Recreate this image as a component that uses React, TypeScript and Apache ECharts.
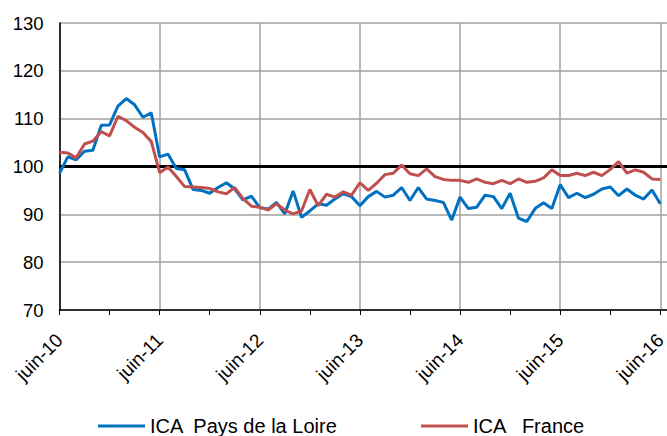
import React, { useEffect, useRef } from "react";
import * as echarts from "echarts";

const yearLabels = ["juin-10", "juin-11", "juin-12", "juin-13", "juin-14", "juin-15", "juin-16"];
const seriesNames = ["ICA  Pays de la Loire", "ICA   France"];
const paysDeLaLoire = [
  98.6, 102.0, 101.4, 103.2, 103.4, 108.6, 108.7, 112.6, 114.2, 112.9, 110.3, 111.2,
  102.0, 102.6, 99.6, 99.3, 95.2, 95.0, 94.4, 95.6, 96.6, 95.3, 93.0, 93.8,
  91.4, 91.1, 92.5, 90.1, 94.9, 89.4, 90.7, 92.2, 91.9, 93.2, 94.3, 93.7,
  91.8, 93.7, 94.8, 93.6, 94.0, 95.6, 92.9, 95.6, 93.2, 92.9, 92.5, 88.8,
  93.6, 91.2, 91.5, 94.0, 93.7, 91.2, 94.4, 89.2, 88.5, 91.2, 92.4, 91.2,
  96.2, 93.5, 94.4, 93.5, 94.2, 95.3, 95.7, 93.9, 95.3, 94.0, 93.2, 95.1,
  92.2,
];
const france = [
  103.0, 102.8, 101.8, 104.7, 105.3, 107.3, 106.4, 110.5, 109.6, 108.2, 107.1, 105.2,
  98.7, 99.9, 97.9, 95.8, 95.7, 95.6, 95.4, 94.7, 94.3, 95.6, 93.3, 91.7,
  91.5, 90.9, 92.2, 90.9, 90.1, 90.7, 95.2, 91.8, 94.2, 93.6, 94.7, 94.0,
  96.6, 95.0, 96.5, 98.3, 98.6, 100.3, 98.5, 98.1, 99.5, 97.9, 97.3, 97.1,
  97.1, 96.7, 97.4, 96.7, 96.4, 97.1, 96.4, 97.4, 96.7, 96.9, 97.6, 99.3,
  98.1, 98.1, 98.6, 98.1, 98.8, 98.1, 99.4, 101.0, 98.6, 99.3, 98.8, 97.4,
  97.3,
];
const referenceLevel = 100;
const yMin = 70;
const yMax = 130;
const yStep = 10;

const FONT = "'Liberation Sans', Arial, sans-serif";

export default function App() {
  const ref = useRef<HTMLDivElement>(null);
  useEffect(() => {
    document.body.style.margin = "0";
    if (!ref.current) return;
    const chart = echarts.init(ref.current, null, { renderer: "svg" });
    const toPairs = (arr: number[]) => arr.map((v, i) => [i, v]);
    const legendText = { fontSize: 20, color: "#000", fontFamily: FONT };
    chart.setOption({
      animation: false,
      textStyle: { fontFamily: FONT },
      grid: { left: 59.5, right: -10, top: 23, bottom: 126, outerBoundsMode: "none", containLabel: false },
      xAxis: {
        type: "value",
        min: 0,
        max: 74,
        interval: 12,
        axisLine: { show: true, lineStyle: { color: "#000", width: 1.5 } },
        axisTick: { show: true, length: 5, lineStyle: { color: "#000", width: 1 } },
        minorTick: { show: true, splitNumber: 2, length: 5, lineStyle: { color: "#000", width: 1 } },
        splitLine: { show: true, lineStyle: { color: "#a0a0a0", width: 1.5 } },
        axisLabel: {
          rotate: 45,
          margin: 27,
          fontSize: 19,
          color: "#000",
          fontFamily: FONT,
          showMaxLabel: false,
          formatter: (v: number) => (v % 12 === 0 && v / 12 < yearLabels.length ? yearLabels[v / 12] : ""),
        },
      },
      yAxis: {
        type: "value",
        min: yMin,
        max: yMax,
        interval: yStep,
        axisLine: { show: true, lineStyle: { color: "#000", width: 1.5 } },
        axisTick: { show: false },
        splitLine: { show: true, lineStyle: { color: "#a0a0a0", width: 1.5 } },
        axisLabel: { margin: 16, fontSize: 18.5, color: "#000", fontFamily: FONT },
      },
      legend: [
        {
          data: [seriesNames[0]],
          left: 93,
          top: 411,
          icon: "rect",
          itemWidth: 47,
          itemHeight: 3,
          textStyle: legendText,
        },
        {
          data: [seriesNames[1]],
          left: 416,
          top: 411,
          icon: "rect",
          itemWidth: 47,
          itemHeight: 3,
          textStyle: legendText,
        },
      ],
      series: [
        {
          name: seriesNames[0],
          type: "line",
          data: toPairs(paysDeLaLoire),
          showSymbol: false,
          symbol: "none",
          lineStyle: { color: "#0070C0", width: 3 },
          itemStyle: { color: "#0070C0" },
          markLine: {
            z: 1,
            silent: true,
            symbol: "none",
            label: { show: false },
            lineStyle: { color: "#000", width: 3, type: "solid" },
            data: [{ yAxis: referenceLevel }],
          },
        },
        {
          name: seriesNames[1],
          type: "line",
          data: toPairs(france),
          showSymbol: false,
          symbol: "none",
          lineStyle: { color: "#C0504D", width: 3 },
          itemStyle: { color: "#C0504D" },
        },
      ],
    });
    return () => chart.dispose();
  }, []);
  return <div ref={ref} style={{ width: 667, height: 436 }} />;
}
